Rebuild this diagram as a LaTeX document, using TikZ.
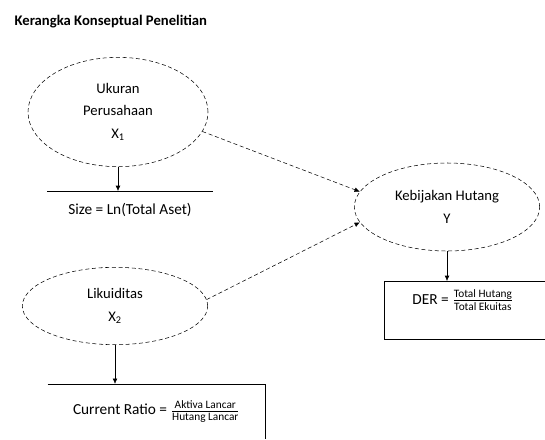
\documentclass[tikz,border=0pt]{standalone}
\usepackage{fontspec}
\setmainfont{Carlito}
\usetikzlibrary{shapes.geometric,arrows.meta}

\tikzset{
  variabel/.style={draw, ellipse, densely dashed, align=center, font=\fontsize{11}{17}\selectfont},
  ukurbox/.style={font=\fontsize{11.5}{13}\selectfont, inner sep=0pt},
  panah/.style={-{Latex[length=4pt,width=3.5pt]}},
}
\newcommand{\pecahan}[2]{$\frac{\mbox{\fontsize{8.5}{9}\selectfont #1}}{\mbox{\fontsize{8.5}{9}\selectfont #2}}$}

\begin{document}
\begin{tikzpicture}[x=0.75pt, y=-0.75pt]
  \useasboundingbox (0,0) rectangle (545,439);
  \node (judul) [anchor=west, font=\bfseries\fontsize{11}{13}\selectfont] at (10,22) {Kerangka Konseptual Penelitian};

  \node (ukuran) [variabel, minimum width=135pt, minimum height=82pt] at (118,112) {Ukuran\\Perusahaan\\X\textsubscript{1}};
  \node (hutang) [variabel, minimum width=139pt, minimum height=66pt] at (447,207) {Kebijakan Hutang\\Y};
  \node (likuiditas) [variabel, minimum width=139pt, minimum height=58pt] at (115,306) {Likuiditas\\X\textsubscript{2}};

  \node (sizebox) [ukurbox, minimum width=124pt, minimum height=28pt] at (130,210) {Size = Ln(Total Aset)};
  \node (derbox) [ukurbox, minimum width=120pt, minimum height=43pt] at (465,310) {};
  \node (der) [ukurbox] at (463,300) {DER = \pecahan{Total Hutang}{Total Ekuitas}};
  \node (crbox) [ukurbox, minimum width=163pt, minimum height=41pt] at (156.5,411.5) {Current Ratio = \pecahan{Aktiva Lancar}{Hutang Lancar}};

  \draw[semithick] (sizebox.north west) -- (sizebox.north east);
  \draw[semithick] (derbox.north east) -- (derbox.north west) -- (derbox.south west) -- (derbox.south east);
  \draw[semithick] (crbox.north west) -- (crbox.north east) -- (crbox.south east);

  \draw[panah] (ukuran.south) -- (ukuran.south |- sizebox.north);
  \draw[panah] (hutang.south) -- (hutang.south |- derbox.north);
  \draw[panah] (likuiditas.south) -- (likuiditas.south |- crbox.north);

  \draw[panah, densely dashed] (ukuran.-13) -- (hutang.170);
  \draw[panah, densely dashed] (likuiditas.4) -- (hutang.190);
\end{tikzpicture}
\end{document}
